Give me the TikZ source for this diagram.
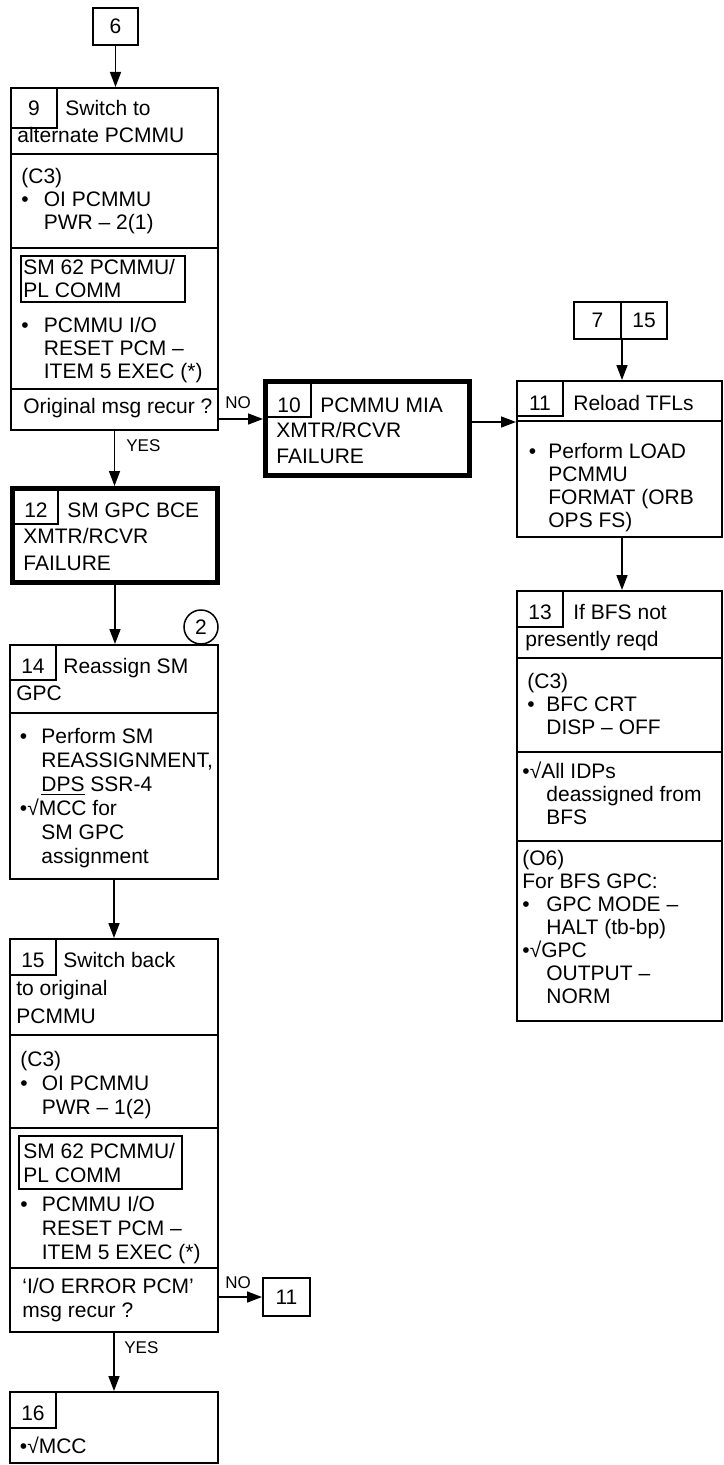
\documentclass[tikz,border=0pt]{standalone}
\usepackage{fontspec}
\setmainfont{Liberation Sans}
\usetikzlibrary{arrows.meta,fit}
\newcommand\fs{\fontsize{10.5pt}{11.5pt}\selectfont}
\newcommand\mlines[2][11.5pt]{\vtop{\baselineskip=#1\relax\lineskiplimit=-100pt\let\\\cr\halign{##\hfil\cr#2\crcr}}}
\newcommand\bul[1]{\makebox[#1][l]{•}}
\newcommand\myind[1]{\hspace*{#1}}
\begin{document}
\begin{tikzpicture}[x=0.5pt,y=-0.5pt,
  bx/.style={draw, line width=1pt, inner sep=0pt},
  thk/.style={draw, line width=2.5pt, inner sep=0pt},
  cell/.style={draw, line width=0.65pt, inner sep=0pt},
  txt/.style={inner sep=0pt, anchor=base west, font=\fs},
  num/.style={inner sep=0pt, anchor=base, font=\fs},
  lbl/.style={inner sep=0pt, anchor=base west, font=\fontsize{8.5pt}{9pt}\selectfont},
  arr/.style={line width=0.8pt, -{Triangle[length=7.5pt,width=5.5pt]}},
  div/.style={line width=1pt}]
\useasboundingbox (0,0) rectangle (723,1465);

% ---- box 6
\node[bx, fit={(93,8) (138,45)}] (b6) {};
\node[num] (t6) at (115.5,34) {6};

% ---- box 9
\node[cell, fit={(11,88) (57,128)}] (n9) {};
\node[bx, fit={(11,88) (218,430)}] (b9) {};
\node[num] (t9n) at (34,115.5) {9};
\node[txt] (t9h1) at (65,115.5) {Switch to};
\node[txt] (t9h2) at (17,143) {alternate PCMMU};
\draw[div] (11,154) -- (218,154);
\node[txt] (t9a) at (21,184) {\mlines{(C3)\\\bul{11.25pt}OI PCMMU\\\myind{11.25pt}PWR – 2(1)}};
\draw[div] (11,248) -- (218,248);
\node[bx, fit={(21,256) (185,302)}] (i9) {};
\node[txt] (t9b) at (23,275) {\mlines{SM 62 PCMMU/\\PL COMM}};
\node[txt] (t9c) at (21,333) {\mlines{\bul{11.25pt}PCMMU I/O\\\myind{11.25pt}RESET PCM –\\\myind{11.25pt}ITEM 5 EXEC (*)}};
\draw[div] (11,389) -- (218,389);
\node[txt] (t9d) at (23,413) {Original msg recur ?};

% ---- box 10
\node[cell, fit={(265.5,381.5) (311,417)}] (n10) {};
\node[thk, fit={(265.5,381.5) (469.5,475.5)}] (b10) {};
\node[num] (t10n) at (289,412) {10};
\node[txt] (t10h) at (320,412) {PCMMU MIA};
\node[txt] (t10b) at (276,437.5) {\mlines[12.75pt]{XMTR/RCVR\\FAILURE}};

% ---- box 7 | 15
\node[bx, fit={(574,302) (621,339)}] (b7) {};
\node[bx, fit={(621,302) (667,339)}] (b715) {};
\node[num] (t7) at (597.5,328) {7};
\node[num] (t715) at (644,328) {15};

% ---- box 11
\node[cell, fit={(517,381) (563,416)}] (n11) {};
\node[bx, fit={(517,381) (721.5,537)}] (b11) {};
\node[num] (t11n) at (540,410) {11};
\node[txt] (t11h) at (573,410) {Reload TFLs};
\draw[div] (517,421) -- (721.5,421);
\node[txt] (t11a) at (528.5,458) {\mlines{\bul{9.75pt}Perform LOAD\\\myind{9.75pt}PCMMU\\\myind{9.75pt}FORMAT (ORB\\\myind{9.75pt}OPS FS)}};

% ---- box 12
\node[cell, fit={(12.5,488.5) (58,524)}] (n12) {};
\node[thk, fit={(12.5,488.5) (217.5,582.5)}] (b12) {};
\node[num] (t12n) at (36,517) {12};
\node[txt] (t12h) at (67,517) {SM GPC BCE};
\node[txt] (t12b) at (23,543.5) {\mlines[13.25pt]{XMTR/RCVR\\FAILURE}};

% ---- box 13
\node[cell, fit={(517,591) (563,627)}] (n13) {};
\node[bx, fit={(517,591) (721.5,1021)}] (b13) {};
\node[num] (t13n) at (540,619) {13};
\node[txt] (t13h1) at (573,619) {If BFS not};
\node[txt] (t13h2) at (525,646) {presently reqd};
\draw[div] (517,658) -- (721.5,658);
\node[txt] (t13a) at (527,688) {\mlines{(C3)\\\bul{9.5pt}BFC CRT\\\myind{9.5pt}DISP – OFF}};
\draw[div] (517,752) -- (721.5,752);
\node[txt] (t13b) at (522,778) {\mlines{•√All IDPs\\\myind{12pt}deassigned from\\\myind{12pt}BFS}};
\draw[div] (517,841) -- (721.5,841);
\node[txt] (t13c) at (522,865) {\mlines{(O6)\\For BFS GPC:\\\bul{12pt}GPC MODE –\\\myind{12pt}HALT (tb-bp)\\•√GPC\\\myind{12pt}OUTPUT –\\\myind{12pt}NORM}};

% ---- box 14
\node[draw, circle, line width=0.75pt, minimum size=17pt, inner sep=0pt, font=\fs] (c2) at (201,627) {2};
\node[cell, fit={(10,645) (56,680)}] (n14) {};
\node[bx, fit={(10,645) (218,879)}] (b14) {};
\node[num] (t14n) at (33,673) {14};
\node[txt] (t14h1) at (63,673) {Reassign SM};
\node[txt] (t14h2) at (16,700) {GPC};
\draw[div] (10,713) -- (218,713);
\node[txt] (t14a) at (19.5,743) {\mlines[12pt]{\bul{10.75pt}Perform SM\\\myind{10.75pt}REASSIGNMENT,\\\myind{10.75pt}\underline{DPS} SSR-4\\•√MCC for\\\myind{10.75pt}SM GPC\\\myind{10.75pt}assignment}};

% ---- box 15
\node[cell, fit={(10,939) (56,975)}] (n15) {};
\node[bx, fit={(10,939) (218,1332)}] (b15) {};
\node[num] (t15n) at (33,967) {15};
\node[txt] (t15h1) at (63,967) {Switch back};
\node[txt] (t15h2) at (16,995) {\mlines[14pt]{to original\\PCMMU}};
\draw[div] (10,1035) -- (218,1035);
\node[txt] (t15a) at (20,1066) {\mlines[12pt]{(C3)\\\bul{10.75pt}OI PCMMU\\\myind{10.75pt}PWR – 1(2)}};
\draw[div] (10,1128) -- (218,1128);
\node[bx, fit={(19,1136) (182,1189)}] (i15) {};
\node[txt] (t15b) at (23,1158) {\mlines[12pt]{SM 62 PCMMU/\\PL COMM}};
\node[txt] (t15c) at (20,1211) {\mlines[12pt]{\bul{10.75pt}PCMMU I/O\\\myind{10.75pt}RESET PCM –\\\myind{10.75pt}ITEM 5 EXEC (*)}};
\draw[div] (10,1268) -- (218,1268);
\node[txt] (t15d) at (22,1293) {\mlines[12pt]{‘I/O ERROR PCM’\\msg recur ?}};

% ---- small box 11
\node[bx, fit={(263,1278) (310,1316)}] (b11s) {};
\node[num] (t11s) at (286.5,1304.5) {11};

% ---- box 16
\node[cell, fit={(10,1392) (56,1428)}] (n16) {};
\node[bx, fit={(10,1392) (218,1463)}] (b16) {};
\node[num] (t16n) at (33,1420) {16};
\node[txt] (t16a) at (19.5,1453) {•√MCC};

% ---- connectors
\coordinate (no9) at (219,419);
\coordinate (y422) at (0,422);
\coordinate (no15) at (219,1297);
\draw[arr] (b6.south) -- (b6.south |- b9.north);
\draw[arr] (no9) -- (no9 -| b10.west);
\node[lbl] (lno9) at (225,408) {NO};
\draw[arr] (b9.south) -- (b9.south |- b12.north);
\node[lbl] (lyes9) at (126,451) {YES};
\draw[arr] (b10.east |- y422) -- (b11.west |- y422);
\draw[arr] (b7.south east) -- (b7.south east |- b11.north);
\draw[arr] (b7.south east |- b11.south) -- (b7.south east |- b13.north);
\draw[arr] (b12.south) -- (b12.south |- b14.north);
\draw[arr] (b14.south) -- (b14.south |- b15.north);
\draw[arr] (no15) -- (no15 -| b11s.west);
\node[lbl] (lno15) at (225,1288) {NO};
\draw[arr] (b15.south) -- (b15.south |- b16.north);
\node[lbl] (lyes15) at (124,1353) {YES};
\end{tikzpicture}
\end{document}
